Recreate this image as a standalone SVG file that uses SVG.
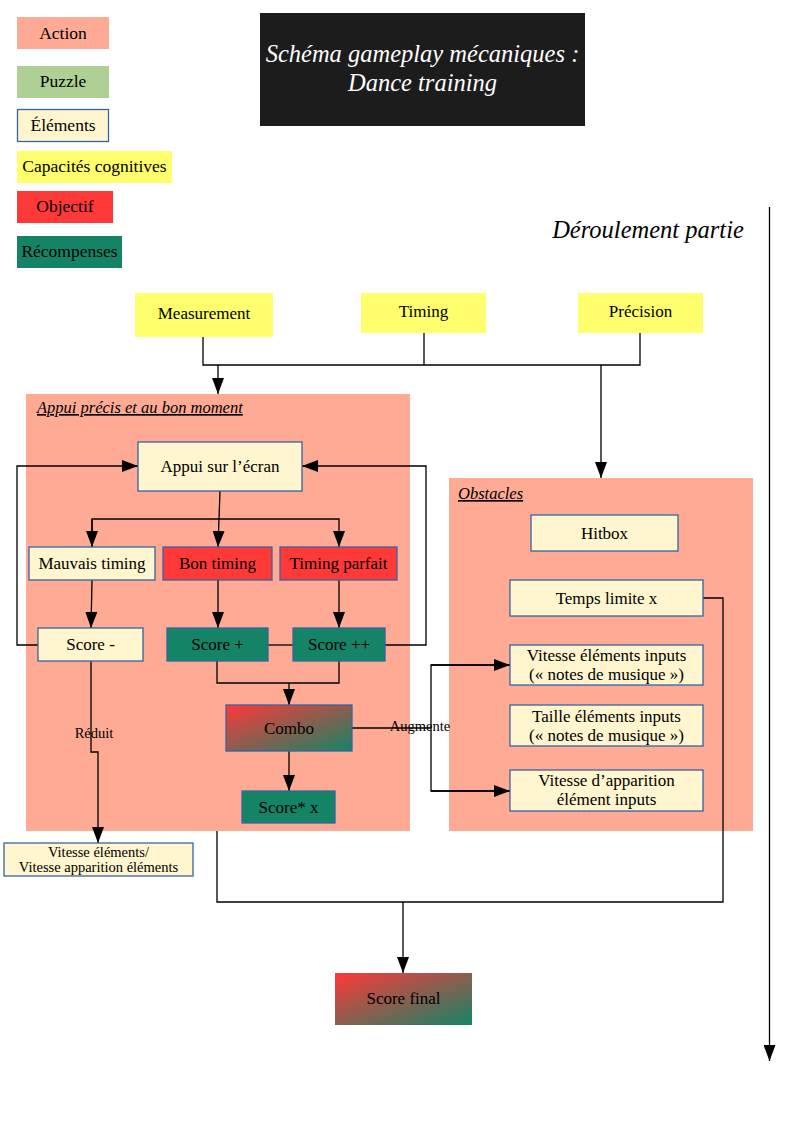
<svg xmlns="http://www.w3.org/2000/svg" width="794" height="1123" viewBox="0 0 794 1123">
<style>
text{font-family:"Liberation Serif","Times New Roman",serif;fill:#000;}
.t{font-size:17px;text-anchor:middle;}
.lg{font-size:17.5px;text-anchor:middle;}
.sm{font-size:14.5px;text-anchor:middle;}
.it{font-style:italic;}
.act{fill:#ffaa95;}
.el{fill:#fff5ce;stroke:#3465a4;stroke-width:1.3;}
.cap{fill:#ffff6d;}
.obj{fill:#ff3838;stroke:#3465a4;stroke-width:1.3;}
.rec{fill:#158466;stroke:#3465a4;stroke-width:1.3;}
.ln{fill:none;stroke:#000;stroke-width:1.3;}
.arr{marker-end:url(#ah);}
</style>
<defs>
<marker id="ah" viewBox="0 0 16 12" refX="16" refY="6" markerWidth="16" markerHeight="12" markerUnits="userSpaceOnUse" orient="auto">
<path d="M0,0 L16,6 L0,12 z" fill="#000"/>
</marker>
<linearGradient id="grad" x1="0" y1="0" x2="1" y2="1">
<stop offset="0" stop-color="#ff3838"/>
<stop offset="1" stop-color="#158466"/>
</linearGradient>
</defs>
<rect width="794" height="1123" fill="#fff"/>

<g id="legend">
<g id="leg-action"><rect x="17" y="17" width="92" height="32" class="act"/><text x="63" y="39" class="lg">Action</text></g>
<g id="leg-puzzle"><rect x="17" y="66" width="92" height="32" fill="#afd095"/><text x="63" y="87" class="lg">Puzzle</text></g>
<g id="leg-elements"><rect x="17.5" y="109.5" width="91" height="32" class="el"/><text x="63" y="131" class="lg">Éléments</text></g>
<g id="leg-cap"><rect x="17" y="151" width="155" height="32" class="cap"/><text x="94.5" y="172" class="lg">Capacités cognitives</text></g>
<g id="leg-obj"><rect x="17" y="191" width="96" height="32" fill="#ff3838"/><text x="65" y="212" class="lg">Objectif</text></g>
<g id="leg-rec"><rect x="17" y="236" width="105" height="32" fill="#158466"/><text x="69.5" y="257" class="lg">Récompenses</text></g>
</g>

<g id="title">
<rect x="260" y="13" width="325" height="113" fill="#1c1c1c"/>
<text x="422.5" y="62" class="it" style="font-size:24.5px;text-anchor:middle;fill:#fff">Schéma gameplay mécaniques :</text>
<text x="422.5" y="91" class="it" style="font-size:24.5px;text-anchor:middle;fill:#fff">Dance training</text>
</g>

<g id="timeline">
<text x="648" y="238" class="it" style="font-size:24.5px;text-anchor:middle">Déroulement partie</text>
<line x1="769.5" y1="207" x2="769.5" y2="1061" class="ln arr"/>
</g>

<g id="panel-appui">
<rect x="26" y="394" width="384" height="437" class="act"/>
<text x="37" y="413" class="it" style="font-size:16.5px;text-decoration:underline">Appui précis et au bon moment</text>
</g>
<g id="panel-obstacles">
<rect x="449" y="478" width="304" height="353" class="act"/>
<text x="458" y="499" class="it" style="font-size:16.5px;text-decoration:underline">Obstacles</text>
</g>

<g id="connectors">
<polyline points="203,337 203,365 640,365 640,333" class="ln"/>
<line x1="424" y1="333" x2="424" y2="365" class="ln"/>
<line x1="218" y1="365" x2="218" y2="394" class="ln arr"/>
<line x1="601" y1="365" x2="601" y2="478" class="ln arr"/>
<polyline points="38,645 17,645 17,466 138,466" class="ln arr"/>
<polyline points="384,645 426,645 426,466 302,466" class="ln arr"/>
<line x1="220" y1="491" x2="218" y2="547" class="ln arr"/>
<polyline points="92,547 92,519 339,519 339,547" class="ln arr"/>
<line x1="92" y1="519" x2="92" y2="547" class="ln arr"/>
<line x1="92" y1="580" x2="91" y2="628" class="ln arr"/>
<line x1="218" y1="580" x2="218" y2="628" class="ln arr"/>
<line x1="339" y1="580" x2="339" y2="628" class="ln arr"/>
<line x1="268" y1="645" x2="293" y2="645" class="ln"/>
<polyline points="217,661 217,683 339,683 339,661" class="ln"/>
<line x1="289" y1="683" x2="289" y2="705" class="ln arr"/>
<line x1="289" y1="751" x2="289" y2="791" class="ln arr"/>
<polyline points="91,661 91,752 98,752 98,843" class="ln arr"/>
<polyline points="352,728 431,728" class="ln"/>
<polyline points="510,665 431,665 431,791 510,791" class="ln"/>
<line x1="431" y1="665" x2="510" y2="665" class="ln arr"/>
<line x1="431" y1="791" x2="510" y2="791" class="ln arr"/>
<polyline points="217,831 217,902 723,902 723,598 703,598" class="ln"/>
<line x1="403" y1="902" x2="403" y2="973" class="ln arr"/>
<text x="94" y="738" class="sm">Réduit</text>
<text x="420" y="731" class="sm">Augmente</text>
</g>

<g id="n-measurement"><rect x="135" y="293" width="138" height="44" class="cap"/><text x="204" y="319" class="t">Measurement</text></g>
<g id="n-timing"><rect x="361" y="293" width="125" height="40" class="cap"/><text x="423.5" y="317" class="t">Timing</text></g>
<g id="n-precision"><rect x="578" y="293" width="125" height="40" class="cap"/><text x="640.5" y="317" class="t">Précision</text></g>

<g id="n-appui"><rect x="138" y="442" width="164" height="49" class="el"/><text x="220" y="472" class="t">Appui sur l’écran</text></g>
<g id="n-mauvais"><rect x="29" y="547" width="126" height="33" class="el"/><text x="92" y="569" class="t">Mauvais timing</text></g>
<g id="n-bon"><rect x="163" y="547" width="109" height="33" class="obj"/><text x="217.5" y="569" class="t">Bon timing</text></g>
<g id="n-parfait"><rect x="280" y="547" width="117" height="33" class="obj"/><text x="338.5" y="569" class="t">Timing parfait</text></g>
<g id="n-scoremoins"><rect x="38" y="628" width="105" height="33" class="el"/><text x="90.5" y="650" class="t">Score -</text></g>
<g id="n-scoreplus"><rect x="167" y="628" width="101" height="33" class="rec"/><text x="217.5" y="650" class="t">Score +</text></g>
<g id="n-scoreplusplus"><rect x="293" y="628" width="92" height="33" class="rec"/><text x="339" y="650" class="t">Score ++</text></g>
<g id="n-combo"><rect x="226" y="705" width="126" height="46" fill="url(#grad)" stroke="#3465a4" stroke-width="1.3"/><text x="289" y="734" class="t">Combo</text></g>
<g id="n-scorex"><rect x="242" y="791" width="93" height="32" class="rec"/><text x="288.5" y="813" class="t">Score* x</text></g>
<g id="n-vitesse"><rect x="4" y="843" width="189" height="33" class="el"/><text x="98.5" y="857" class="sm">Vitesse éléments/</text><text x="98.5" y="872" class="sm">Vitesse apparition éléments</text></g>

<g id="n-hitbox"><rect x="531" y="515" width="147" height="36" class="el"/><text x="604.5" y="539" class="t">Hitbox</text></g>
<g id="n-temps"><rect x="510" y="580" width="193" height="36" class="el"/><text x="606.5" y="604" class="t">Temps limite x</text></g>
<g id="n-vitesseinputs"><rect x="510" y="645" width="193" height="40" class="el"/><text x="606.5" y="661" class="t">Vitesse éléments inputs</text><text x="606.5" y="680" class="t">(« notes de musique »)</text></g>
<g id="n-taille"><rect x="510" y="705" width="193" height="41" class="el"/><text x="606.5" y="722" class="t">Taille éléments inputs</text><text x="606.5" y="741" class="t">(« notes de musique »)</text></g>
<g id="n-apparition"><rect x="510" y="770" width="193" height="41" class="el"/><text x="606.5" y="786" class="t">Vitesse d’apparition</text><text x="606.5" y="805" class="t">élément inputs</text></g>

<g id="n-final"><rect x="335" y="973" width="137" height="52" fill="url(#grad)"/><text x="403.5" y="1004" class="t">Score final</text></g>
</svg>
